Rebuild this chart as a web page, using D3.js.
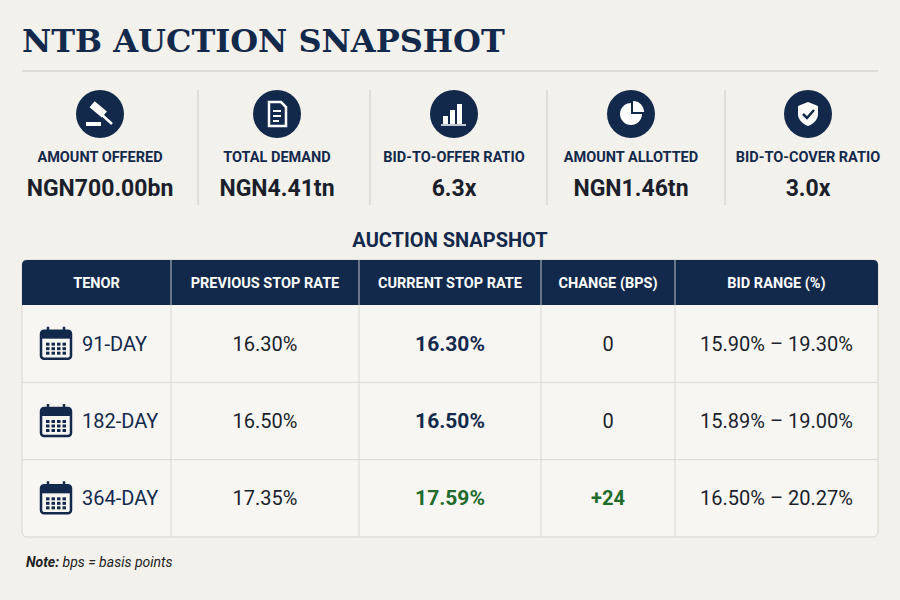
<!DOCTYPE html>
<html><head><meta charset="utf-8">
<script src="https://cdn.jsdelivr.net/npm/d3@7"></script>
<style>body{margin:0;background:#f3f1ec}text{font-family:"Liberation Sans Narrow",Roboto,sans-serif}</style>
</head><body>
<script>
// kpis
var kpiLabels = ['AMOUNT OFFERED', 'TOTAL DEMAND', 'BID-TO-OFFER RATIO', 'AMOUNT ALLOTTED', 'BID-TO-COVER RATIO']
var kpiValues = ['NGN700.00bn', 'NGN4.41tn', '6.3x', 'NGN1.46tn', '3.0x']
// table
var headers = ['TENOR', 'PREVIOUS STOP RATE', 'CURRENT STOP RATE', 'CHANGE (BPS)', 'BID RANGE (%)']
var tenors = ['91-DAY', '182-DAY', '364-DAY']
var prevRate = [16.30, 16.50, 17.35]
var currRate = [16.30, 16.50, 17.59]
var bidLow = [15.90, 15.89, 16.50]
var bidHigh = [19.30, 19.00, 20.27]

var W = 900, H = 600, navy = '#13294b', green = '#1f6b2a'
var svg = d3.select('body').append('svg').attr('width', W).attr('height', H)
svg.append('rect').attr('width', W).attr('height', H).attr('fill', '#f3f1ec')

svg.append('text').attr('x', 22).attr('y', 52).text('NTB AUCTION SNAPSHOT')
    .style('font-family', '"DejaVu Serif",serif').attr('font-weight', 'bold').attr('font-size', 32).attr('fill', navy)
svg.append('line').attr('x1', 22).attr('x2', 878).attr('y1', 71).attr('y2', 71).attr('stroke', '#c9c5bd')

// kpi strip
var kx = d3.scalePoint().domain(kpiLabels).range([100, 808])
var dividers = [198, 370, 547, 725]
svg.selectAll('.div').data(dividers).enter().append('line')
    .attr('x1', function(d) { return d }).attr('x2', function(d) { return d })
    .attr('y1', 90).attr('y2', 205).attr('stroke', '#cfcbc3')

var kg = svg.selectAll('.kpi').data(kpiLabels).enter().append('g')
    .attr('transform', function(d) { return 'translate(' + kx(d) + ',0)' })
kg.append('circle').attr('cy', 114).attr('r', 24).attr('fill', navy)
kg.append('text').attr('y', 162).attr('text-anchor', 'middle').attr('font-size', 14.5).attr('font-weight', 'bold')
    .attr('fill', navy).text(function(d) { return d })
kg.append('text').attr('y', 196).attr('text-anchor', 'middle').attr('font-size', 23).attr('font-weight', 'bold')
    .attr('fill', '#1a1f2b').text(function(d, i) { return kpiValues[i] })

// icons
var ic = kg.append('g').attr('transform', 'translate(0,114)').attr('fill', 'white').attr('stroke', 'white')
ic.each(function(d, i) {
    var g = d3.select(this)
    if (i == 0) {
        g.append('rect').attr('x', -9).attr('y', -4).attr('width', 16).attr('height', 8).attr('stroke', 'none').attr('transform', 'translate(-1,-4) rotate(40)')
        g.append('line').attr('x1', 1).attr('y1', 0).attr('x2', 12).attr('y2', 10).attr('stroke-width', 2.5)
        g.append('rect').attr('x', -14).attr('y', 8).attr('width', 15).attr('height', 4).attr('stroke', 'none')
    } else if (i == 1) {
        g.append('path').attr('d', 'M-8,-12H4L9,-7V12H-8Z').attr('fill', 'none').attr('stroke-width', 2.5)
        g.append('path').attr('d', 'M-4,-3H4M-4,2H4M-4,7H2').attr('stroke-width', 2)
    } else if (i == 2) {
        g.append('rect').attr('x', -11).attr('y', 2).attr('width', 5).attr('height', 8).attr('stroke', 'none')
        g.append('rect').attr('x', -4).attr('y', -4).attr('width', 5).attr('height', 14).attr('stroke', 'none')
        g.append('rect').attr('x', 3).attr('y', -10).attr('width', 5).attr('height', 20).attr('stroke', 'none')
        g.append('line').attr('x1', -13).attr('x2', 12).attr('y1', 11).attr('y2', 11).attr('stroke-width', 1.5)
    } else if (i == 3) {
        g.append('path').attr('d', 'M0,-11A11,11 0 1,0 11,0H0Z').attr('stroke', 'none')
        g.append('path').attr('d', 'M2,-13A11,11 0 0,1 13,-2H2Z').attr('stroke', 'none')
    } else {
        g.append('path').attr('d', 'M0,-12L10,-8V0C10,6 5,10 0,12C-5,10 -10,6 -10,0V-8Z').attr('stroke', 'none')
        g.append('path').attr('d', 'M-5,0L-1,4L6,-4').attr('stroke', navy).attr('stroke-width', 2.5).attr('fill', 'none')
    }
})

svg.append('text').attr('x', 450).attr('y', 247).attr('text-anchor', 'middle').attr('font-size', 20)
    .attr('font-weight', 'bold').attr('fill', navy).text('AUCTION SNAPSHOT')

// table
var colEdges = [22, 171, 359, 541, 675, 878]
var y = d3.scaleBand().domain(tenors).range([305, 537])
var hdrTop = 260
svg.append('rect').attr('x', 22).attr('y', hdrTop).attr('width', 856).attr('height', 537 - hdrTop)
    .attr('rx', 5).attr('fill', '#f7f6f3').attr('stroke', '#d9d5cd')
svg.append('path').attr('d', 'M22,305V265Q22,260 27,260H873Q878,260 878,265V305Z').attr('fill', navy)
svg.selectAll('.row').data(tenors.slice(1)).enter().append('line')
    .attr('x1', 22).attr('x2', 878).attr('y1', function(d) { return y(d) }).attr('y2', function(d) { return y(d) })
    .attr('stroke', '#dcd8d0')
svg.selectAll('.col').data(colEdges.slice(1, 5)).enter().append('line')
    .attr('x1', function(d) { return d }).attr('x2', function(d) { return d })
    .attr('y1', hdrTop).attr('y2', 537).attr('stroke', '#dcd8d0')
svg.selectAll('.colh').data(colEdges.slice(1, 5)).enter().append('line')
    .attr('x1', function(d) { return d }).attr('x2', function(d) { return d })
    .attr('y1', hdrTop).attr('y2', 305).attr('stroke', '#5a6b86')

function mid(i) { return (colEdges[i] + colEdges[i + 1]) / 2 }
svg.selectAll('.hd').data(headers).enter().append('text')
    .attr('x', function(d, i) { return mid(i) }).attr('y', 288).attr('text-anchor', 'middle')
    .attr('font-size', 14.5).attr('font-weight', 'bold').attr('fill', 'white').text(function(d) { return d })

var rg = svg.selectAll('.r').data(tenors).enter().append('g')
    .attr('transform', function(d) { return 'translate(0,' + (y(d) + y.bandwidth() / 2 + 7) + ')' })
// calendar icon
var cal = rg.append('g').attr('transform', 'translate(56,-7)')
cal.append('rect').attr('x', -15).attr('y', -13).attr('width', 30).attr('height', 28).attr('rx', 3)
    .attr('fill', 'none').attr('stroke', navy).attr('stroke-width', 2.5)
cal.append('rect').attr('x', -15).attr('y', -13).attr('width', 30).attr('height', 8).attr('fill', navy)
cal.append('path').attr('d', 'M-8,-17V-10M8,-17V-10').attr('stroke', navy).attr('stroke-width', 2.5)
cal.selectAll('.dot').data(d3.range(12)).enter().append('rect')
    .attr('x', function(k) { return -10 + (k % 4) * 5.5 }).attr('y', function(k) { return -1 + Math.floor(k / 4) * 4.5 })
    .attr('width', 3.5).attr('height', 3).attr('fill', navy)
rg.append('text').attr('x', 82).attr('font-size', 20).attr('fill', navy).text(function(d) { return d })
rg.append('text').attr('x', mid(1)).attr('text-anchor', 'middle').attr('font-size', 20).attr('fill', '#1a1f2b')
    .text(function(d, i) { return prevRate[i].toFixed(2) + '%' })
rg.append('text').attr('x', mid(2)).attr('text-anchor', 'middle').attr('font-size', 21).attr('font-weight', 'bold')
    .attr('fill', function(d, i) { return currRate[i] != prevRate[i] ? green : navy })
    .text(function(d, i) { return currRate[i].toFixed(2) + '%' })
rg.append('text').attr('x', mid(3)).attr('text-anchor', 'middle').attr('font-size', 20)
    .attr('font-weight', function(d, i) { return currRate[i] != prevRate[i] ? 'bold' : 'normal' })
    .attr('fill', function(d, i) { return currRate[i] != prevRate[i] ? green : '#1a1f2b' })
    .text(function(d, i) { var c = Math.round((currRate[i] - prevRate[i]) * 100); return c > 0 ? '+' + c : c })
rg.append('text').attr('x', mid(4)).attr('text-anchor', 'middle').attr('font-size', 20).attr('fill', '#1a1f2b')
    .text(function(d, i) { return bidLow[i].toFixed(2) + '% \u2013 ' + bidHigh[i].toFixed(2) + '%' })

var note = svg.append('text').attr('x', 26).attr('y', 567).attr('font-size', 14).attr('fill', '#222')
    .style('font-family', 'Roboto,sans-serif').attr('font-style', 'italic')
note.append('tspan').attr('font-weight', 'bold').text('Note:')
note.append('tspan').text(' bps = basis points')
</script>
</body></html>
